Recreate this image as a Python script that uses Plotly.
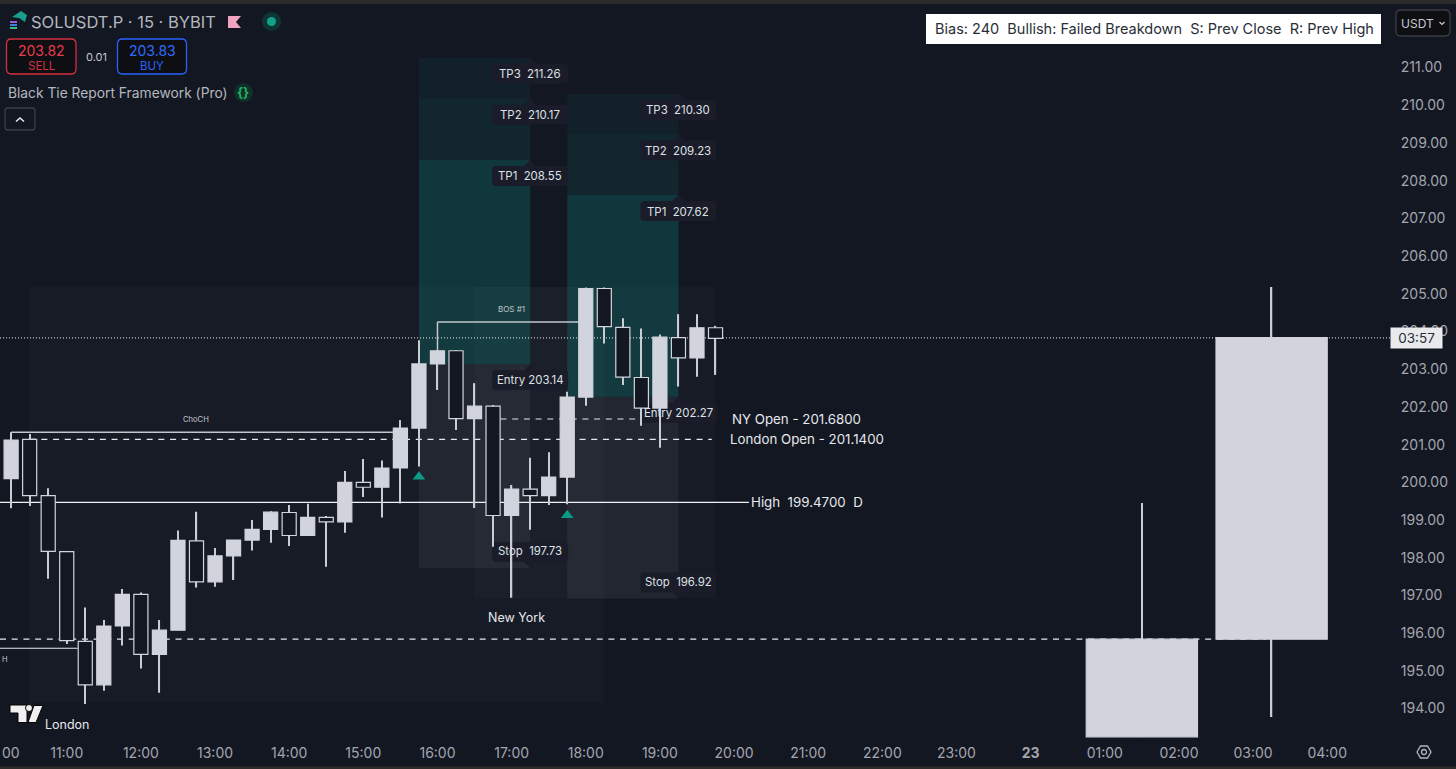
import plotly.graph_objects as go

# 15m candles, hours on the chart's clock (24 = the 23rd)
candle_hours = [10.25, 10.5, 10.75, 11, 11.25, 11.5, 11.75, 12, 12.25, 12.5, 12.75, 13, 13.25,
                13.5, 13.75, 14, 14.25, 14.5, 14.75, 15, 15.25, 15.5, 15.75, 16, 16.25, 16.5,
                16.75, 17, 17.25, 17.5, 17.75, 18, 18.25, 18.5, 18.75, 19, 19.25, 19.5, 19.75]
opens = [200.10, 201.14, 199.65, 198.16, 195.78, 194.63, 196.19, 197.03, 195.44, 196.08, 198.45, 197.36, 198.05,
         198.47, 198.75, 199.20, 198.59, 199.07, 198.95, 200.00, 199.87, 200.38, 201.44, 203.14, 203.49, 201.69,
         202.02, 199.12, 199.82, 199.65, 200.14, 202.26, 205.14, 204.11, 202.78, 201.97, 203.84, 203.30, 204.10]
highs = [201.33, 201.28, 199.84, 198.16, 196.68, 196.35, 197.17, 197.08, 196.35, 198.72, 199.22, 198.26, 198.47,
         199.00, 199.23, 199.40, 199.43, 199.11, 200.30, 200.62, 200.58, 201.65, 203.77, 203.49, 203.51, 202.63,
         202.05, 199.93, 200.65, 200.80, 202.40, 205.17, 205.17, 204.35, 204.08, 203.92, 204.46, 204.46, 204.15]
lows = [199.31, 199.37, 197.44, 195.71, 194.12, 194.47, 195.67, 195.06, 194.42, 196.08, 197.21, 197.23, 197.41,
        198.19, 198.40, 198.31, 198.59, 197.76, 198.66, 199.61, 199.07, 199.44, 200.42, 202.45, 201.39, 199.32,
        198.29, 196.94, 198.74, 199.40, 199.42, 202.03, 203.68, 202.58, 201.50, 200.92, 202.54, 202.80, 202.85]
closes = [201.12, 199.65, 198.17, 195.80, 194.63, 196.19, 197.03, 195.44, 196.08, 198.46, 197.36, 198.05, 198.47,
          198.75, 199.21, 198.59, 199.07, 198.95, 200.00, 199.87, 200.38, 201.44, 203.14, 203.49, 201.69, 202.02,
          199.12, 199.82, 199.65, 200.14, 202.26, 205.14, 204.13, 202.79, 201.97, 203.85, 203.30, 204.10, 203.82]

# the two big higher timeframe candles on the right
htf_hours = [25.5, 27.25]
htf_opens = [193.25, 195.84]
htf_highs = [199.45, 205.18]
htf_lows = [193.25, 193.78]
htf_closes = [195.84, 203.84]

# trade boxes: start, end, tp3, tp2, tp1, entry, stop
box_starts = [15.75, 17.75]
box_ends = [17.25, 19.25]
tp3_levels = [211.26, 210.30]
tp2_levels = [210.17, 209.23]
tp1_levels = [208.55, 207.62]
entry_levels = [203.14, 202.27]
stop_levels = [197.73, 196.92]

session_starts = [10.49, 16.5]
session_ends = [18.25, 19.75]
session_tops = [205.18, 205.18]
session_bottoms = [194.15, 196.92]

price_now = 203.83
high_level = 199.47
ny_open = 201.68
london_open = 201.14
prev_close = 195.84
choch_level = 201.33
bos_level = 204.25
signal_hours = [15.75, 17.75]
signal_prices = [200.15, 199.13]

price_ticks = list(range(194, 212))
time_ticks = [11, 12, 13, 14, 15, 16, 17, 18, 19, 20, 21, 22, 23, 24, 25, 26, 27, 28]
time_labels = ["11:00", "12:00", "13:00", "14:00", "15:00", "16:00", "17:00", "18:00", "19:00", "20:00", "21:00",
               "22:00", "23:00", "<b>23</b>", "01:00", "02:00", "03:00", "04:00"]

BG = "#131722"
LIGHT = "#d1d4dc"
W, H = 1456, 769
L, R, T, B = 0, 1391, 14, 738


def px(x):
    return (x - L) / (R - L)


def py(y):
    return 1 - (y - T) / (B - T)


shapes = []
notes = []


def hline(y, x0, x1, color="#e6e8ec", dash="solid", width=1):
    shapes.append(dict(type="line", layer="below", x0=x0, x1=x1, y0=y, y1=y,
                       line=dict(color=color, dash=dash, width=width)))


def area(x0, x1, y0, y1, color):
    shapes.append(dict(type="rect", layer="below", x0=x0, x1=x1, y0=y0, y1=y1, fillcolor=color, line_width=0))


def tag(x, y, text, above=False):
    # little rounded tooltip with a notch pointing at the level
    s = 1 if above else -1
    h0, h1 = 6 * s, 26 * s
    path = (f"M 0 0 L 6 {h0} L 34 {h0} Q 38 {h0} 38 {h0 + 4 * s} L 38 {h1 - 4 * s} Q 38 {h1} 34 {h1} "
            f"L -34 {h1} Q -38 {h1} -38 {h1 - 4 * s} L -38 {h0 + 4 * s} Q -38 {h0} -34 {h0} L -6 {h0} Z")
    shapes.append(dict(type="path", layer="below", xsizemode="pixel", ysizemode="pixel", xanchor=x, yanchor=y,
                       path=path, fillcolor="#1a1d29", line_width=0))
    notes.append(dict(x=x, y=y, yshift=16.5 * s, text=text, showarrow=False,
                      font=dict(size=11.4, color="#dfe1e6")))


def label(x, y, text, size=13.3, color="#e6e8ec", anchor="left", **kw):
    notes.append(dict(x=x, y=y, text=text, showarrow=False, xanchor=anchor, font=dict(size=size, color=color), **kw))


def ui_text(x, y, text, size=13, color="#b2b5be", anchor="left", **kw):
    if anchor == "left":
        x -= 2
    notes.append(dict(xref="paper", yref="paper", x=px(x), y=py(y), text=text, showarrow=False, xanchor=anchor,
                      yanchor="middle", font=dict(size=size, color=color), **kw))


def ui_shape(kind, x0, y0, x1, y1, fill, line="rgba(0,0,0,0)", width=1):
    shapes.append(dict(type=kind, layer="above", xref="paper", yref="paper", x0=px(x0), x1=px(x1), y0=py(y0), y1=py(y1),
                       fillcolor=fill, line=dict(color=line, width=width)))


def ui_path(points, fill="rgba(0,0,0,0)", line="rgba(0,0,0,0)", width=1, closed=True):
    d = " L ".join(f"{px(a):.5f} {py(b):.5f}" for a, b in points)
    shapes.append(dict(type="path", layer="above", xref="paper", yref="paper", path="M " + d + (" Z" if closed else ""),
                       fillcolor=fill, line=dict(color=line, width=width)))


def round_box(x0, y0, x1, y1, fill, line, r=5, width=1.3):
    p = (f"M {px(x0 + r):.5f} {py(y0):.5f} L {px(x1 - r):.5f} {py(y0):.5f} Q {px(x1):.5f} {py(y0):.5f} {px(x1):.5f} {py(y0 + r):.5f} "
         f"L {px(x1):.5f} {py(y1 - r):.5f} Q {px(x1):.5f} {py(y1):.5f} {px(x1 - r):.5f} {py(y1):.5f} "
         f"L {px(x0 + r):.5f} {py(y1):.5f} Q {px(x0):.5f} {py(y1):.5f} {px(x0):.5f} {py(y1 - r):.5f} "
         f"L {px(x0):.5f} {py(y0 + r):.5f} Q {px(x0):.5f} {py(y0):.5f} {px(x0 + r):.5f} {py(y0):.5f} Z")
    shapes.append(dict(type="path", layer="above", xref="paper", yref="paper", path=p, fillcolor=fill,
                       line=dict(color=line, width=width)))


# session boxes
for x0, x1, y0, y1 in zip(session_starts, session_ends, session_tops, session_bottoms):
    area(x0, x1, y0, y1, "rgba(255,255,255,0.02)")

# trade boxes, target zones get more solid toward the entry
for i in range(2):
    area(box_starts[i], box_ends[i], tp3_levels[i], tp2_levels[i], "rgba(8,150,135,0.07)")
    area(box_starts[i], box_ends[i], tp2_levels[i], tp1_levels[i], "rgba(8,150,135,0.12)")
    area(box_starts[i], box_ends[i], tp1_levels[i], entry_levels[i], "rgba(8,150,135,0.25)")
    area(box_starts[i], box_ends[i], entry_levels[i], stop_levels[i], "rgba(255,255,255,0.05)")

# levels
hline(price_now, 10.1, 28.86, dash="1px,2px", color="#eceef2")
hline(high_level, 10.1, 20.2, color="#f0f1f4", width=1.2)
hline(ny_open, 16.85, 19.7, dash="6px,5.7px", width=1.2)
hline(london_open, 10.5, 19.7, dash="6px,5.7px", width=1.2)
hline(prev_close, 10.1, 27.17, dash="6px,5.7px", width=1.2)
hline(choch_level, 10.25, 15.4, color="#c4c6cc", width=1.5)
shapes.append(dict(type="line", layer="below", x0=10.25, x1=10.25, y0=choch_level, y1=201.12,
                   line=dict(color="#c4c6cc", width=1.5)))
hline(bos_level, 16, 18, color="#c4c6cc", width=1.5)
shapes.append(dict(type="line", layer="below", x0=16, x1=16, y0=bos_level, y1=203.49,
                   line=dict(color="#c4c6cc", width=1.5)))
hline(195.6, 10.1, 11.15)

# tags on the trade boxes
for i in range(2):
    tag(box_ends[i], tp3_levels[i], f"TP3\u00a0\u00a0{tp3_levels[i]:.2f}")
    tag(box_ends[i], tp2_levels[i], f"TP2\u00a0\u00a0{tp2_levels[i]:.2f}")
    tag(box_ends[i], tp1_levels[i], f"TP1\u00a0\u00a0{tp1_levels[i]:.2f}")
    tag(box_ends[i], entry_levels[i], f"Entry {entry_levels[i]:.2f}")
    tag(box_ends[i], stop_levels[i], f"Stop\u00a0\u00a0{stop_levels[i]:.2f}", above=True)

label(19.94, ny_open, f"NY Open - {ny_open:.4f}", anchor="left")
label(19.92, london_open, f"London Open - {london_open:.4f}", anchor="left")
label(20.195, high_level, f"High\u00a0\u00a0{high_level:.4f}\u00a0\u00a0D", anchor="left")
label(17.07, 196.42, "New York", size=12.5, anchor="center")
label(11, 193.57, "London", size=12.5, anchor="center")
label(12.75, 201.67, "ChoCH", size=7.6, color="#c4c6cc", anchor="center")
label(17, 204.6, "BOS #1", size=8, color="#c4c6cc", anchor="center")
label(10.1, 195.3, "H", size=7.5, color="#c4c6cc", anchor="left")

# top strip, bottom strip
ui_shape("rect", 0, 0, W, 4, "#2a2a2b")
ui_shape("rect", 0, 766.5, W, H, "#2a2a2b")

# header, top left
ui_path([(12, 17), (21, 11), (27, 15), (25, 22), (19, 18)], fill="#19a08c")
ui_path([(10, 21), (17, 21), (17, 23), (10, 23)], fill="#9a5cd6")
ui_path([(10, 24), (17, 24), (17, 26), (10, 26)], fill="#3f7fe0")
ui_path([(10, 27), (17, 27), (17, 29), (10, 29)], fill="#32c08c")
ui_text(31, 22, "SOLUSDT.P · 15 · BYBIT", size=16.5, color="#b4b7bf")
ui_path([(228, 16), (241, 16), (236, 22), (241, 28), (228, 28)], fill="#f4a3bf")
ui_shape("circle", 262, 12, 281, 31, "#0f3436")
ui_shape("circle", 267, 17, 276, 26, "#12a28c")

round_box(6.5, 39, 76, 74, "#0e0f13", "#d5303f")
ui_text(41, 50.5, "203.82", size=14, color="#ea3a4d", anchor="center")
ui_text(41, 65.5, "SELL", size=11.5, color="#d5303f", anchor="center")
ui_text(96, 57, "0.01", size=11, color="#c6c8ce", anchor="center")
round_box(117.5, 39, 186.5, 74, "#0e0f13", "#2962ff")
ui_text(152, 50.5, "203.83", size=14, color="#2e6bff", anchor="center")
ui_text(152, 65.5, "BUY", size=11.5, color="#2962ff", anchor="center")

ui_text(8, 92.5, "Black Tie Report Framework (Pro)", size=13.8, color="#b4b7bf")
ui_shape("circle", 234, 83, 253, 102, "#10302c")
ui_text(243.5, 92, "<b>{}</b>", size=13, color="#22b35e", anchor="center")
round_box(5, 108, 35, 130, BG, "#3a3d45", r=3)
ui_path([(16, 121.5), (20, 118), (24, 121.5)], line="#e6e8ec", width=1.6, closed=False)

# bias box and currency button, top right
ui_shape("rect", 926, 14, 1381, 44, "#ffffff")
ui_text(1154.5, 29, "Bias: 240\u00a0\u00a0Bullish: Failed Breakdown\u00a0\u00a0S: Prev Close\u00a0\u00a0R: Prev High",
        size=14.5, color="#2a2e39", anchor="center")
round_box(1396, 10, 1450, 36, "#0e0f13", "#3a3d45", r=5)
ui_text(1417, 23.5, "USDT", size=12, color="#c6c8ce", anchor="center")
ui_path([(1439.5, 22), (1442, 24.5), (1444.5, 22)], line="#c6c8ce", width=1.2, closed=False)

# TV logo
ui_path([(10, 705), (27, 705), (27, 722.5), (18, 722.5), (18, 713), (10, 713)], fill="#f0f0f0", line="#050505")
ui_shape("circle", 25.5, 704.5, 32.5, 711.5, "#f0f0f0", line="#050505")
ui_path([(34, 705.5), (43, 705.5), (36, 722.5), (28, 722.5)], fill="#f0f0f0", line="#050505")

# countdown badge on the price axis
notes.append(dict(xref="paper", yref="paper", x=px(1416.5), y=py(338), text="03:57", showarrow=False, width=49, height=18,
                  bgcolor="#e9eaec", font=dict(size=13.5, color="#2a2e39"), xanchor="center", yanchor="middle"))

# settings hexagon, bottom right
ui_path([(1417, 752), (1420.5, 746), (1427.5, 746), (1431, 752), (1427.5, 758), (1420.5, 758)], line="#b2b5be", width=1.3)
ui_shape("circle", 1421.5, 749.5, 1426.5, 754.5, "rgba(0,0,0,0)", line="#b2b5be", width=1.3)

# cut off 10:00 label at the left edge
ui_text(2, 752.5, "00", size=14, color="#a3a6af")

fig = go.Figure()


def add_candles(xs, o, h, l, c, body_width, wick_width):
    up = [b >= a for a, b in zip(o, c)]
    fig.add_trace(go.Bar(x=xs, base=l, y=[a - b for a, b in zip(h, l)], width=wick_width,
                         marker=dict(color="#c9ccd3", line_width=0), showlegend=False))
    fig.add_trace(go.Bar(x=xs, base=[min(a, b) for a, b in zip(o, c)], y=[abs(a - b) for a, b in zip(o, c)],
                         width=body_width,
                         marker=dict(color=[LIGHT if u else BG for u in up], line=dict(color=LIGHT, width=1.2)),
                         showlegend=False))


add_candles(candle_hours, opens, highs, lows, closes, 0.19, 0.017)
add_candles(htf_hours, htf_opens, htf_highs, htf_lows, htf_closes, 1.5, 0.017)

fig.add_trace(go.Scatter(x=signal_hours, y=signal_prices, mode="markers", showlegend=False,
                         marker=dict(symbol="triangle-up", size=11, color="#0b9a84")))

fig.update_layout(
    width=W, height=H, margin=dict(l=L, r=W - R, t=T, b=H - B, pad=0),
    paper_bgcolor=BG, plot_bgcolor=BG, barmode="overlay", showlegend=False,
    font=dict(family="Inter, 'Noto Sans', sans-serif", color="#a3a6af", size=13),
    shapes=shapes, annotations=notes, hovermode=False,
    xaxis=dict(range=[10.1, 28.86], tickvals=time_ticks, ticktext=time_labels, showgrid=False, zeroline=False,
               ticks="outside", ticklen=2, tickcolor="rgba(0,0,0,0)", tickfont=dict(size=14, color="#a3a6af"),
               showline=False),
    yaxis=dict(range=[193.22, 212.42], side="right", tickvals=price_ticks, tickformat=".2f", showgrid=False,
               zeroline=False, ticks="outside", ticklen=6, tickcolor="rgba(0,0,0,0)",
               tickfont=dict(size=14, color="#a3a6af"), showline=False),
)

fig.write_html("out.html", config=dict(displayModeBar=False),
               post_script="document.body.style.margin='0';document.body.style.background='#131722';")
